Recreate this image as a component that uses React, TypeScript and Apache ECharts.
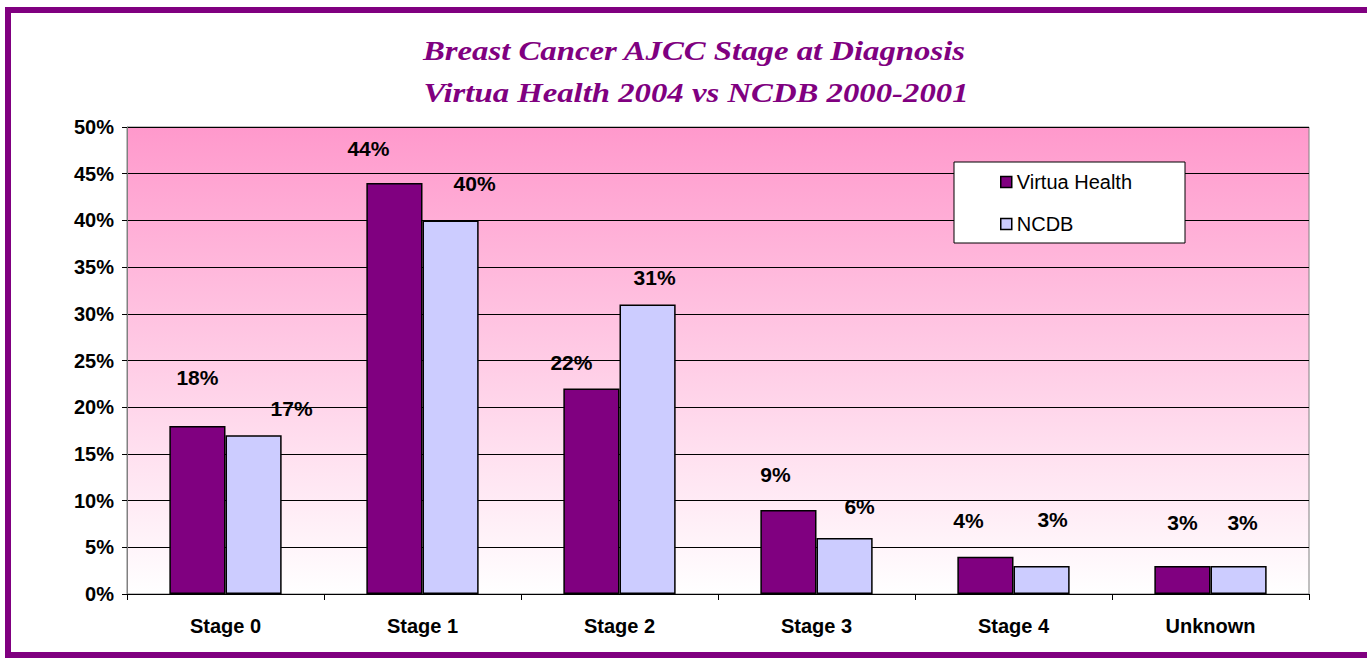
import React, { useEffect, useRef } from "react";
import * as echarts from "echarts";

const categories = ["Stage 0", "Stage 1", "Stage 2", "Stage 3", "Stage 4", "Unknown"];
const virtuaHealth = [18, 44, 22, 9, 4, 3];
const ncdb = [17, 40, 31, 6, 3, 3];
const seriesNames = ["Virtua Health", "NCDB"];
const titleLines = ["Breast Cancer AJCC Stage at Diagnosis", "Virtua Health 2004 vs NCDB 2000-2001"];

// label placement (layout, not data)
const virtuaLabelOffsets = [[0, -33], [-26, -19], [-20, -11], [-13, -20], [-17, -21], [0, -28]];
const ncdbLabelOffsets = [[38, -11], [24, -21], [7, -11], [15, -16], [11, -31], [4, -28]];

export default function App() {
  const ref = useRef<HTMLDivElement>(null);
  useEffect(() => {
    document.body.style.margin = "0";
    const chart = echarts.init(ref.current!, null, { renderer: "svg" });
    const labelFont = { fontFamily: "Liberation Sans, Arial, sans-serif", fontWeight: "bold" as const, color: "#000" };
    const mkData = (vals: number[], offs: number[][]) =>
      vals.map((v, i) => ({ value: v, label: { offset: offs[i] } }));
    const titleStyle = {
      fontFamily: "Liberation Serif, Times New Roman, serif",
      fontStyle: "italic",
      fontWeight: "bold",
      fontSize: 28,
      fill: "#800080",
      align: "center",
      verticalAlign: "middle",
    };
    chart.setOption({
      animation: false,
      backgroundColor: "#fff",
      legend: {
        orient: "vertical",
        left: 954,
        top: 162,
        backgroundColor: "#fff",
        borderColor: "#000",
        borderWidth: 1,
        padding: [10, 53, 9, 46],
        itemGap: 22,
        itemWidth: 11,
        itemHeight: 11,
        icon: "rect",
        textStyle: { fontFamily: "Liberation Sans, Arial, sans-serif", fontSize: 20, color: "#000" },
        data: seriesNames.map((n) => ({ name: n, itemStyle: { borderColor: "#000", borderWidth: 1.5 } })),
      },
      grid: {
        left: 127,
        top: 127,
        width: 1182,
        height: 467,
        show: true,
        borderColor: "#808080",
        borderWidth: 1,
        backgroundColor: new echarts.graphic.LinearGradient(0, 0, 0, 1, [
          { offset: 0, color: "#FF99CC" },
          { offset: 1, color: "#FFFFFF" },
        ]),
      },
      xAxis: {
        type: "category",
        data: categories,
        axisLine: { show: true, lineStyle: { color: "#000", width: 1 } },
        axisTick: { show: true, length: 6, lineStyle: { color: "#000" } },
        axisLabel: { ...labelFont, fontSize: 20, margin: 22 },
      },
      yAxis: {
        type: "value",
        min: 0,
        max: 50,
        interval: 5,
        axisLine: { show: true, lineStyle: { color: "#808080", width: 1 } },
        axisTick: { show: true, length: 5, lineStyle: { color: "#000" } },
        axisLabel: { ...labelFont, fontSize: 20, margin: 13, formatter: "{value}%" },
        splitLine: { show: true, lineStyle: { color: "#000", width: 1 } },
      },
      series: [
        {
          name: seriesNames[0],
          type: "bar",
          data: mkData(virtuaHealth, virtuaLabelOffsets),
          barGap: "0%",
          barCategoryGap: "43%",
          itemStyle: { color: "#800080", borderColor: "#000", borderWidth: 1.5 },
          label: { show: true, position: "top", formatter: "{c}%", ...labelFont, fontSize: 21 },
        },
        {
          name: seriesNames[1],
          type: "bar",
          data: mkData(ncdb, ncdbLabelOffsets),
          barGap: "0%",
          barCategoryGap: "43%",
          itemStyle: { color: "#CCCCFF", borderColor: "#000", borderWidth: 1.5 },
          label: { show: true, position: "top", formatter: "{c}%", ...labelFont, fontSize: 21 },
        },
      ],
      graphic: [
        {
          type: "text",
          x: 694,
          y: 51,
          scaleX: 1.17,
          style: { ...titleStyle, text: titleLines[0] },
          silent: true,
        },
        {
          type: "text",
          x: 696,
          y: 93,
          scaleX: 1.17,
          style: { ...titleStyle, text: titleLines[1] },
          silent: true,
        },
        {
          type: "rect",
          shape: { x: 8, y: 10, width: 1380, height: 645 },
          style: { fill: "none", stroke: "#800080", lineWidth: 6 },
          silent: true,
          z: 100,
        },
      ],
    });
    return () => chart.dispose();
  }, []);
  return <div ref={ref} style={{ position: "fixed", left: 0, top: 0, width: 1367, height: 658 }} />;
}
